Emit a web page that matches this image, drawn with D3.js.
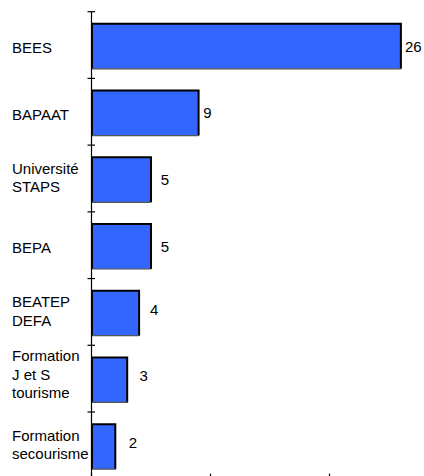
<!DOCTYPE html>
<html>
<head>
<meta charset="utf-8">
<script src="https://cdn.jsdelivr.net/npm/d3@7/dist/d3.min.js"></script>
<style>
  html, body { margin: 0; padding: 0; background: #fff; }
  svg { display: block; }
  text { font-family: "Liberation Sans", Arial, sans-serif; font-size: 15px; fill: #000; }
</style>
</head>
<body>
<svg id="chart" width="424" height="476"></svg>
<script>
// ---- data ----
const categories = [
  "BEES",
  "BAPAAT",
  "Université\nSTAPS",
  "BEPA",
  "BEATEP\nDEFA",
  "Formation\nJ et S\ntourisme",
  "Formation\nsecourisme"
];
const values = [26, 9, 5, 5, 4, 3, 2];
const xTicks = [0, 10, 20];

// ---- layout ----
const svg = d3.select("#chart");
const mLeft = 91.5, mTop = 11.7, mBottom = 478.7;

const x = d3.scaleLinear().domain([0, 30]).range([mLeft, mLeft + 30 * 11.9]);
const y = d3.scaleBand().domain(categories).range([mTop, mBottom]).paddingInner(0).paddingOuter(0);

const barH = 45;
const barColor = "#3366ff";

// bars
const bars = svg.append("g");
categories.forEach((c, i) => {
  const v = values[i];
  const cy = y(c) + y.bandwidth() / 2 + 1.3;
  const y0 = cy - barH / 2;
  const x0 = x(0) + 0.5, x1 = x(v);
  bars.append("rect")
    .attr("x", x0).attr("y", y0)
    .attr("width", x1 - x0).attr("height", barH)
    .attr("fill", barColor);
  // left, top, right border (black)
  bars.append("path")
    .attr("d", `M${x0},${y0 + barH}V${y0}H${x1}V${y0 + barH}`)
    .attr("fill", "none").attr("stroke", "#000").attr("stroke-width", 2);
  // bottom edge (grey)
  bars.append("line")
    .attr("x1", x0).attr("x2", x1)
    .attr("y1", y0 + barH).attr("y2", y0 + barH)
    .attr("stroke", "#555").attr("stroke-width", 1.2);
  // value label
  const dx = Math.max(3, 15 - 1.25 * v);
  svg.append("text")
    .attr("x", x1 + 1 + dx)
    .attr("y", cy + 5.4 + (v <= 4 ? -4 : 0))
    .text(v);
});

// y axis line
svg.append("line")
  .attr("x1", mLeft).attr("x2", mLeft)
  .attr("y1", mTop).attr("y2", mBottom)
  .attr("stroke", "#000").attr("stroke-width", 1.2);

// y axis ticks at band boundaries
const boundaries = categories.map(c => y(c)).concat([mBottom]);
svg.append("g").selectAll("line").data(boundaries).join("line")
  .attr("x1", mLeft - 4).attr("x2", mLeft + 3.5)
  .attr("y1", d => d).attr("y2", d => d)
  .attr("stroke", "#000").attr("stroke-width", 1.2);

// x axis (mostly off-canvas)
svg.append("line")
  .attr("x1", mLeft).attr("x2", x(30))
  .attr("y1", mBottom).attr("y2", mBottom)
  .attr("stroke", "#000").attr("stroke-width", 1.2);
svg.append("g").selectAll("line").data(xTicks).join("line")
  .attr("x1", d => x(d)).attr("x2", d => x(d))
  .attr("y1", mBottom - 5).attr("y2", mBottom + 4)
  .attr("stroke", "#000").attr("stroke-width", 1.2);

// category labels
const lineH = 18.5;
categories.forEach(c => {
  const lines = c.split("\n");
  const n = lines.length;
  const cy = y(c) + y.bandwidth() / 2;
  const offset = 2.7 - 3.5 * (n - 1);
  const t = svg.append("text");
  lines.forEach((ln, i) => {
    t.append("tspan")
      .attr("x", 12)
      .attr("y", cy + (i - (n - 1) / 2) * lineH + 5.4 + offset)
      .text(ln);
  });
});
</script>
</body>
</html>
